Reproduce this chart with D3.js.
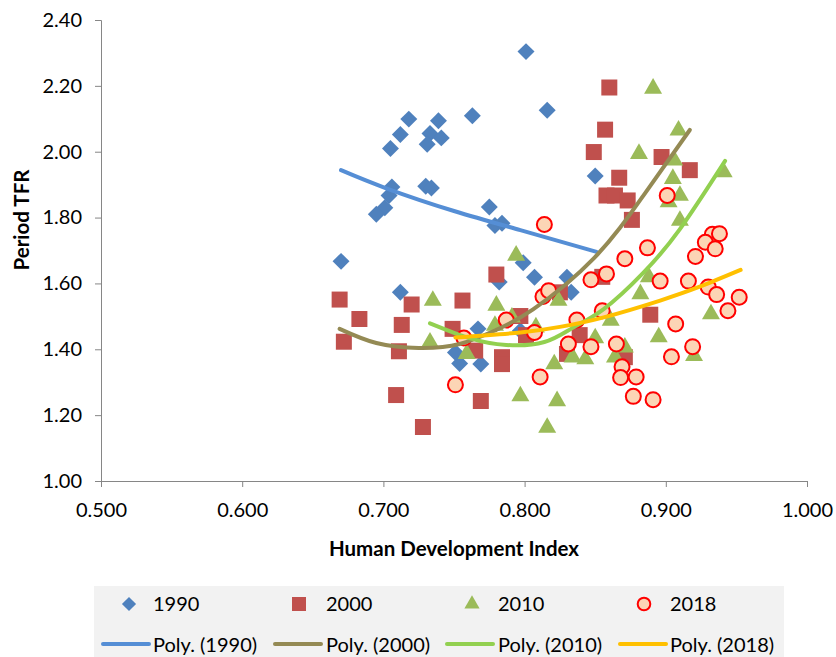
<!DOCTYPE html>
<html>
<head>
<meta charset="utf-8">
<script src="https://cdn.jsdelivr.net/npm/d3@7"></script>
<style>
  body { margin: 0; background: #fff; }
  text { font-family: Lato, "Open Sans", sans-serif; }
</style>
</head>
<body>
<div id="chart"></div>
<script>
// data: HDI (x) and period TFR (y) per year
var hdi1990 = [0.801,0.816,0.763,0.718,0.739,0.712,0.733,0.741,0.731,0.705,0.706,0.704,0.701,0.695,0.730,0.734,0.775,0.779,0.784,0.850,0.670,0.712,0.767,0.754,0.769,0.751,0.782,0.799,0.807,0.830,0.833,0.797];
var tfr1990 = [2.304,2.126,2.109,2.099,2.094,2.052,2.055,2.042,2.023,2.010,1.893,1.867,1.830,1.810,1.895,1.890,1.832,1.776,1.783,1.926,1.667,1.573,1.462,1.357,1.355,1.390,1.604,1.663,1.619,1.619,1.573,1.456];

var hdi2000 = [0.669,0.683,0.672,0.720,0.713,0.711,0.756,0.780,0.749,0.797,0.765,0.784,0.784,0.709,0.769,0.728,0.825,0.801,0.830,0.860,0.857,0.849,0.867,0.858,0.864,0.873,0.876,0.897,0.917,0.855,0.889,0.839,0.871];
var tfr2000 = [1.551,1.492,1.423,1.536,1.474,1.394,1.548,1.627,1.462,1.501,1.396,1.376,1.355,1.261,1.243,1.164,1.573,1.443,1.386,2.195,2.067,1.999,1.921,1.867,1.867,1.852,1.793,1.984,1.944,1.620,1.505,1.443,1.376];

var hdi2010 = [0.735,0.733,0.759,0.780,0.779,0.794,0.797,0.816,0.823,0.821,0.824,0.834,0.808,0.791,0.891,0.909,0.881,0.906,0.905,0.941,0.910,0.902,0.910,0.888,0.882,0.861,0.932,0.895,0.850,0.871,0.843,0.864,0.920];
var tfr2010 = [1.548,1.421,1.386,1.533,1.472,1.685,1.258,1.162,1.243,1.355,1.548,1.376,1.467,1.497,2.192,2.065,1.994,1.974,1.918,1.938,1.867,1.847,1.791,1.619,1.568,1.487,1.507,1.437,1.434,1.406,1.370,1.376,1.380];

var hdi2018 = [0.751,0.757,0.787,0.811,0.813,0.817,0.807,0.831,0.837,0.814,0.901,0.933,0.938,0.928,0.935,0.887,0.871,0.921,0.858,0.847,0.896,0.916,0.930,0.936,0.952,0.944,0.855,0.907,0.847,0.865,0.919,0.904,0.869,0.868,0.879,0.877,0.891];
var tfr2018 = [1.292,1.434,1.489,1.316,1.560,1.578,1.451,1.416,1.489,1.779,1.867,1.749,1.751,1.725,1.705,1.708,1.675,1.682,1.629,1.611,1.607,1.607,1.589,1.566,1.558,1.517,1.517,1.477,1.408,1.416,1.408,1.377,1.347,1.314,1.316,1.257,1.247];

// polynomial trendlines, points (HDI, TFR)
var trend1990 = [[0.670,1.944],[0.702,1.889],[0.750,1.820],[0.797,1.762],[0.851,1.696]];
var trend2000 = [[0.669,1.462],[0.695,1.419],[0.725,1.404],[0.754,1.416],[0.780,1.459],[0.806,1.521],[0.849,1.676],[0.884,1.866],[0.917,2.066]];
var trend2010 = [[0.733,1.479],[0.761,1.434],[0.787,1.413],[0.814,1.422],[0.834,1.465],[0.856,1.522],[0.884,1.632],[0.910,1.765],[0.942,1.972]];
var trend2018 = [[0.751,1.436],[0.797,1.451],[0.825,1.468],[0.856,1.497],[0.896,1.548],[0.924,1.590],[0.953,1.641]];

var years = ["1990", "2000", "2010", "2018"];
var xTicks = [0.5, 0.6, 0.7, 0.8, 0.9, 1.0];
var yTicks = [1.0, 1.2, 1.4, 1.6, 1.8, 2.0, 2.2, 2.4];

var series = [
  {year: "1990", x: hdi1990, y: tfr1990, fit: trend1990, shape: "diamond", fill: "#4f81bd", trend: "#558ed5"},
  {year: "2000", x: hdi2000, y: tfr2000, fit: trend2000, shape: "square",  fill: "#c0504d", trend: "#948a54"},
  {year: "2010", x: hdi2010, y: tfr2010, fit: trend2010, shape: "triangle", fill: "#9bbb59", trend: "#92d050"},
  {year: "2018", x: hdi2018, y: tfr2018, fit: trend2018, shape: "circle",  fill: "#fcd5b5", trend: "#ffc000"}
];

var width = 836, height = 657;
var svg = d3.select("#chart").append("svg")
    .attr("width", width)
    .attr("height", height);

var x = d3.scaleLinear().domain([0.5, 1.0]).range([101, 807]);
var y = d3.scaleLinear().domain([1.0, 2.4]).range([481, 20]);

// axes
svg.append("g")
    .attr("transform", "translate(0,481)")
    .call(d3.axisBottom(x).tickValues(xTicks).tickFormat(d3.format(".3f")).tickSize(6).tickPadding(16))
    .call(styleAxis);

svg.append("g")
    .attr("transform", "translate(101,0)")
    .call(d3.axisLeft(y).tickValues(yTicks).tickFormat(d3.format(".2f")).tickSize(6).tickPadding(13))
    .call(styleAxis);

function styleAxis(g) {
  g.select(".domain").attr("stroke", "#868686");
  g.selectAll(".tick line").attr("stroke", "#868686");
  g.selectAll(".tick text").attr("fill", "#000").style("font-size", "20px").style("font-family", "Lato");
}

svg.append("text")
    .attr("x", 454).attr("y", 556)
    .attr("text-anchor", "middle")
    .style("font-size", "20.5px").style("font-weight", "bold")
    .text("Human Development Index");

svg.append("text")
    .attr("transform", "translate(29,220) rotate(-90)")
    .attr("text-anchor", "middle")
    .style("font-size", "20.5px").style("font-weight", "bold")
    .text("Period TFR");

// marker shapes
function markerPath(shape, big) {
  if (shape == "diamond") return d3.symbol().type(d3.symbolSquare).size(big ? 144 : 100)();
  if (shape == "square") return d3.symbol().type(d3.symbolSquare).size(big ? 256 : 196)();
  if (shape == "triangle") return d3.symbol().type(d3.symbolTriangle).size(big ? 140 : 100)();
  return d3.symbol().type(d3.symbolCircle).size(big ? Math.PI * 7.5 * 7.5 : Math.PI * 6.3 * 6.3)();
}

function drawMarker(sel, s, big) {
  sel.append("path")
      .attr("d", markerPath(s.shape, big))
      .attr("transform", function(d) {
        var t = "translate(" + d[0] + "," + d[1] + ")";
        return s.shape == "diamond" ? t + " rotate(45)" : t;
      })
      .attr("fill", s.fill)
      .attr("stroke", s.shape == "circle" ? "#ff0000" : "none")
      .attr("stroke-width", 2);
}

series.forEach(function(s) {
  var pts = s.x.map(function(v, i) { return [x(v), y(s.y[i])]; });
  svg.append("g").selectAll("g")
    .data(pts)
    .enter().append("g")
    .each(function(d) { drawMarker(d3.select(this).datum(d), s, true); });
});

// trendlines on top of the markers
var line = d3.line()
    .x(function(d) { return x(d[0]); })
    .y(function(d) { return y(d[1]); })
    .curve(d3.curveNatural);

series.forEach(function(s) {
  svg.append("path")
      .attr("d", line(s.fit))
      .attr("fill", "none")
      .attr("stroke", s.trend)
      .attr("stroke-width", 4)
      .attr("stroke-linecap", "round");
});

// legend
var legend = svg.append("g");
legend.append("rect")
    .attr("x", 94).attr("y", 586).attr("width", 690).attr("height", 71)
    .attr("fill", "#f2f2f2");

var colX = [129, 299, 472, 644];
var textX = [153, 326, 498, 670];
var lineX = [103, 275, 447, 620];

series.forEach(function(s, i) {
  var g = legend.append("g").datum([colX[i], 604]);
  drawMarker(g, s, false);
  legend.append("text")
      .attr("x", textX[i]).attr("y", 604).attr("dy", "0.35em")
      .style("font-size", "20px")
      .text(s.year);
  legend.append("line")
      .attr("x1", lineX[i]).attr("x2", lineX[i] + 46)
      .attr("y1", 644).attr("y2", 644)
      .attr("stroke", s.trend).attr("stroke-width", 4)
      .attr("stroke-linecap", "round");
  legend.append("text")
      .attr("x", textX[i]).attr("y", 645).attr("dy", "0.35em")
      .style("font-size", "20px")
      .text("Poly. (" + s.year + ")");
});
</script>
</body>
</html>
